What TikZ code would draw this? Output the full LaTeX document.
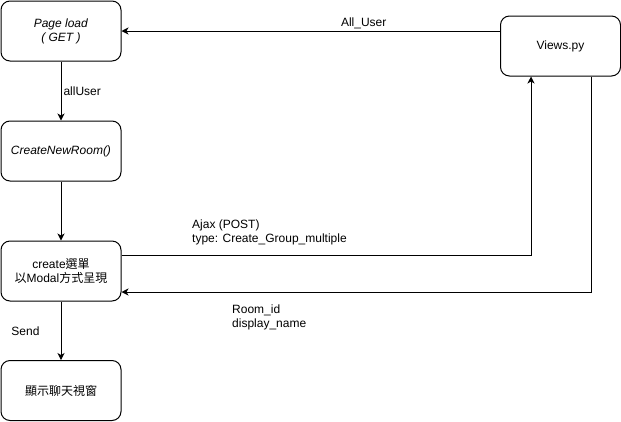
\documentclass[tikz,border=0pt]{standalone}
\usepackage{fontspec}
\setmainfont{Liberation Sans}
\newfontfamily\cjk{Noto Sans CJK TC}
\usetikzlibrary{arrows.meta,positioning}

\begin{document}
\begin{tikzpicture}[x = 1pt, y = -1pt, font = \fontsize{12}{14}\selectfont]
\tikzstyle{boxStyle} = [draw, rounded corners = 9pt, minimum width = 120pt, minimum height = 60pt, align = center, inner sep = 0pt, line width = 1pt]
\tikzstyle{arrowStyle} = [line width = 1pt, -{Stealth[length = 7pt, width = 7pt, inset = 2pt]}]
\tikzstyle{labelStyle} = [inner sep = 2pt, align = left]
\useasboundingbox (0,0) rectangle (621,421);
\node[boxStyle] (pageLoad) at (61, 31) {\textit{Page load}\\\textit{( GET )}};
\node[boxStyle] (createRoom) at (61, 151) {\textit{CreateNewRoom()}};
\node[boxStyle] (createMenu) at (61, 271) {create{\cjk 選單}\\{\cjk 以}Modal{\cjk 方式呈現}};
\node[boxStyle] (chatWindow) at (61, 390.5) {\cjk 顯示聊天視窗};
\node[boxStyle] (views) at (560.5, 46) {Views.py};
\draw[arrowStyle] (views.west |- pageLoad.east) -- (pageLoad.east)
  node[labelStyle, above, pos = 0.36] {All\_User};
\draw[arrowStyle] (pageLoad) -- (createRoom)
  node[labelStyle, right, midway] {allUser};
\draw[arrowStyle] (createRoom) -- (createMenu);
\draw[arrowStyle] ([yshift = 16pt]createMenu.east) -| ([xshift = -29.5pt]views.south);
\draw[arrowStyle] ([xshift = 30.5pt]views.south) |- ([yshift = -21pt]createMenu.east);
\draw[arrowStyle] (createMenu) -- (chatWindow)
  node[labelStyle, left, midway, xshift = -19pt] {Send};
\node[labelStyle, anchor = west] (ajaxLabel) at (190, 232) {Ajax (POST)\\type: Create\_Group\_multiple};
\node[labelStyle, anchor = west] (roomLabel) at (230, 317) {Room\_id\\display\_name};
\end{tikzpicture}
\end{document}
